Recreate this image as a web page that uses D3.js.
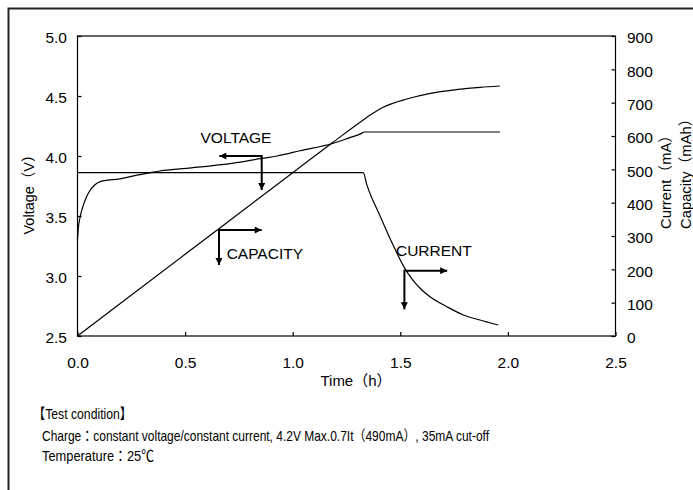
<!DOCTYPE html>
<html><head><meta charset="utf-8">
<script src="https://cdn.jsdelivr.net/npm/d3@7/dist/d3.min.js"></script>
<style>
html,body{margin:0;padding:0;background:#fff;}
svg{display:block;}
text{font-family:"Liberation Sans",Arial,"Noto Sans CJK JP",sans-serif;fill:#000;}
</style></head>
<body>
<svg id="chart" width="693" height="490"></svg>
<script>
// ---- data ----
const timeTicks = [0, 0.5, 1.0, 1.5, 2.0, 2.5];
const voltTicks = [2.5, 3.0, 3.5, 4.0, 4.5, 5.0];
const mATicks = [0, 100, 200, 300, 400, 500, 600, 700, 800, 900];

const voltageT = [0, 0.004, 0.012, 0.027, 0.05, 0.081, 0.112, 0.197, 0.275, 0.337, 0.383, 0.507, 0.724, 0.856, 0.926, 1.034, 1.189, 1.266, 1.31, 1.336, 1.963];
const voltageV = [3.30, 3.40, 3.49, 3.59, 3.69, 3.76, 3.79, 3.81, 3.84, 3.86, 3.875, 3.897, 3.94, 3.98, 4.00, 4.044, 4.106, 4.153, 4.18, 4.20, 4.20];

const currentT = [0, 1.328, 1.344, 1.406, 1.467, 1.519, 1.553, 1.60, 1.638, 1.716, 1.793, 1.870, 1.955];
const currentMA = [490, 490, 455, 360, 272, 205, 172, 138, 118, 88, 63, 48, 33];

const capacityT = [0, 0.5, 1.0, 1.181, 1.336, 1.375, 1.42, 1.53, 1.64, 1.76, 1.87, 1.963];
const capacityMAh = [0, 245, 490, 578, 652, 669, 686, 711, 728, 739, 746, 750];

// annotation arrows: corner, horizontal tip, vertical tip (data units), label anchor
const annLabels = ["VOLTAGE", "CAPACITY", "CURRENT"];
const annAxis = ["left", "right", "right"];
const annCornerT = [0.856, 0.6575, 1.519];
const annCornerY = [4.0, 318, 196];
const annTipT = [0.659, 0.856, 1.718];
const annTipY = [3.717, 213, 80];
const annTextT = [0.7365, 0.693, 1.48];
const annTextY = [4.111, 231, 240];
const annAnchor = ["middle", "start", "start"];

const notes = ["【Test condition】",
  "Charge：constant voltage/constant current,  4.2V Max.0.7It（490mA）, 35mA cut-off",
  "Temperature：25℃"];

// ---- drawing ----
const svg = d3.select("#chart");
const W = 693, H = 490;
const m = {l: 77.5, r: 615.5, t: 36, b: 336};
const x = d3.scaleLinear([0, 2.5], [m.l, m.r]);
const yL = d3.scaleLinear([2.5, 5], [m.b, m.t]);
const yR = d3.scaleLinear([0, 900], [m.b, m.t]);

// outer frame
svg.append("path").attr("d", `M8.5,${H} V8.5 H${W}`).attr("fill", "none")
  .attr("stroke", "#222").attr("stroke-width", 2);

// plot frame
svg.append("rect").attr("x", m.l).attr("y", m.t).attr("width", m.r - m.l).attr("height", m.b - m.t)
  .attr("fill", "none").attr("stroke", "#000").attr("stroke-width", 1.2);

const fs = "15.5px";
const gL = svg.append("g").attr("transform", `translate(${m.l},0)`)
  .call(d3.axisLeft(yL).tickValues(voltTicks).tickFormat(d3.format(".1f"))
    .tickSizeInner(-4).tickSizeOuter(0).tickPadding(10.5));
const gR = svg.append("g").attr("transform", `translate(${m.r},0)`)
  .call(d3.axisRight(yR).tickValues(mATicks).tickFormat(d3.format("d"))
    .tickSizeInner(-4).tickSizeOuter(0).tickPadding(11.5));
const gB = svg.append("g").attr("transform", `translate(0,${m.b})`)
  .call(d3.axisBottom(x).tickValues(timeTicks).tickFormat(d3.format(".1f"))
    .tickSizeInner(-4).tickSizeOuter(0).tickPadding(21));
[gL, gR, gB].forEach(g => {
  g.select(".domain").remove();
  g.selectAll(".tick line").attr("stroke", "#000").attr("stroke-width", 1.2);
  g.selectAll(".tick text").style("font-size", fs).attr("fill", "#000")
    .style("font-family", '"Liberation Sans",Arial,sans-serif');
});
gL.selectAll(".tick text").attr("dy", "0.45em");
gR.selectAll(".tick text").attr("dy", "0.45em");

// axis titles
svg.append("text").attr("transform", "translate(34,191) rotate(-90)")
  .attr("text-anchor", "middle").style("font-size", "14.5px").text("Voltage（V）");
svg.append("text").attr("transform", "translate(671,229) rotate(-90)")
  .attr("text-anchor", "start").style("font-size", "14.8px").text("Current（mA）");
svg.append("text").attr("transform", "translate(691,229) rotate(-90)")
  .attr("text-anchor", "start").style("font-size", "14.8px").text("Capacity（mAh）");
svg.append("text").attr("x", 356).attr("y", 386).attr("text-anchor", "middle")
  .style("font-size", "15px").text("Time（h）");

// curves
const lineStyle = sel => sel.attr("fill", "none").attr("stroke", "#000").attr("stroke-width", 1.2);
const mk = (ts, ys, yS) => d3.line().x(d => x(d[0])).y(d => yS(d[1])).curve(d3.curveMonotoneX)(ts.map((t, i) => [t, ys[i]]));
svg.append("path").attr("d", mk(voltageT, voltageV, yL)).call(lineStyle);
svg.append("path").attr("d", mk(currentT, currentMA, yR)).call(lineStyle);
svg.append("path").attr("d", mk(capacityT, capacityMAh, yR)).call(lineStyle);

// arrow marker
svg.append("defs").append("marker").attr("id", "ah").attr("viewBox", "0 0 10 10")
  .attr("refX", 10).attr("refY", 5).attr("markerUnits", "userSpaceOnUse")
  .attr("markerWidth", 8).attr("markerHeight", 7).attr("orient", "auto")
  .append("path").attr("d", "M0,0 L10,5 L0,10 Z").attr("fill", "#000");

annLabels.forEach((lab, i) => {
  const yS = annAxis[i] === "left" ? yL : yR;
  const cx = x(annCornerT[i]), cy = yS(annCornerY[i]);
  svg.append("line").attr("x1", cx).attr("y1", cy).attr("x2", x(annTipT[i])).attr("y2", cy)
    .attr("stroke", "#000").attr("stroke-width", 2).attr("marker-end", "url(#ah)");
  svg.append("line").attr("x1", cx).attr("y1", cy - 1).attr("x2", cx).attr("y2", yS(annTipY[i]))
    .attr("stroke", "#000").attr("stroke-width", 2).attr("marker-end", "url(#ah)");
  svg.append("text").attr("x", x(annTextT[i])).attr("y", yS(annTextY[i]))
    .attr("text-anchor", annAnchor[i]).style("font-size", "15.5px").text(lab);
});

// notes
const noteX = [33, 42, 42];
const noteY = [419, 441, 461];
const noteLen = [99, 447, 112];
notes.forEach((n, i) => {
  svg.append("text").attr("x", noteX[i]).attr("y", noteY[i]).style("font-size", "14.5px")
    .attr("textLength", noteLen[i]).attr("lengthAdjust", "spacingAndGlyphs").text(n);
});
</script>
</body></html>
